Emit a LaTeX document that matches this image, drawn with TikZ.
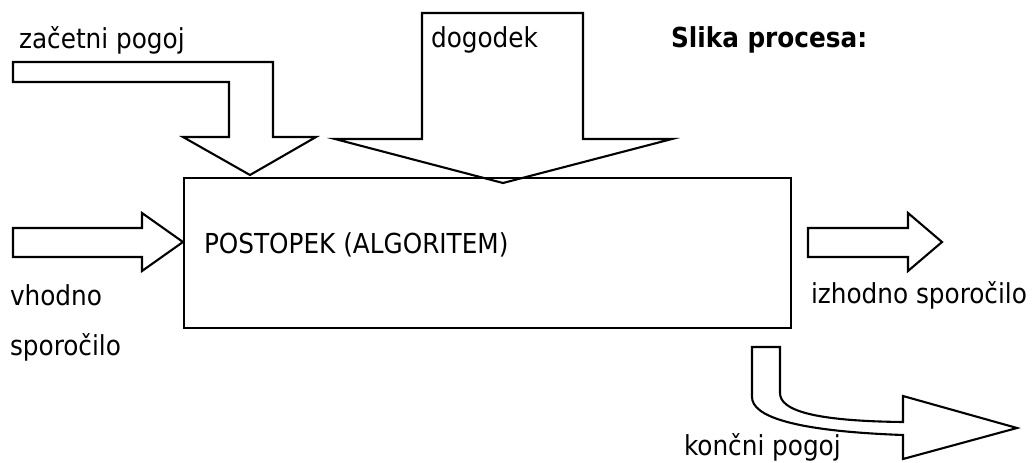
\documentclass[tikz,border=0pt]{standalone}
\usepackage{fontspec}
\setmainfont{DejaVu Sans Condensed}
\begin{document}
\begin{tikzpicture}[x=1pt, y=-1pt, line width=2.1pt, line join=miter,
    lbl/.style={anchor=base west, inner sep=0pt, font=\fontsize{27.5}{32}\selectfont}]
\useasboundingbox (0,0) rectangle (1034,463);
% block arrows
\draw (13,62) -- (273,62) -- (273,137) -- (316,137) -- (250,175) -- (183,137)
    -- (229,137) -- (229,82) -- (13,82) -- cycle;
\draw (422,13) -- (583,13) -- (583,139) -- (672,139) -- (503,183) -- (335,139)
    -- (422,139) -- cycle;
\draw (13,228) -- (142,228) -- (142,213) -- (183,242) -- (142,271) -- (142,257)
    -- (13,257) -- cycle;
\draw (808,228) -- (908,228) -- (908,213) -- (942,242) -- (908,271) -- (908,257)
    -- (808,257) -- cycle;
\draw (752,347) -- (752,397) .. controls (752,416) and (792,431) .. (903,435)
    -- (903,459) -- (1017,428) -- (903,396) -- (903,422)
    .. controls (812,421) and (780,410) .. (780,393) -- (780,347) -- cycle;
% process box
\node[draw, anchor=north west, inner sep=0pt, minimum width=607pt,
    minimum height=150pt] (proc) at (183,177) {};
\node[lbl] (alg) at (203,253) {POSTOPEK (ALGORITEM)};
% labels
\node[lbl] (start) at (18,48) {začetni pogoj};
\node[lbl] (event) at (430,47) {dogodek};
\node[lbl, font=\fontsize{27.5}{32}\selectfont\bfseries] (title) at (670,47) {Slika procesa:};
\node[lbl] (in1) at (9,305) {vhodno};
\node[lbl] (in2) at (9,355) {sporočilo};
\node[lbl] (out) at (810,303) {izhodno sporočilo};
\node[lbl] (stop) at (683,455) {končni pogoj};
\end{tikzpicture}
\end{document}
